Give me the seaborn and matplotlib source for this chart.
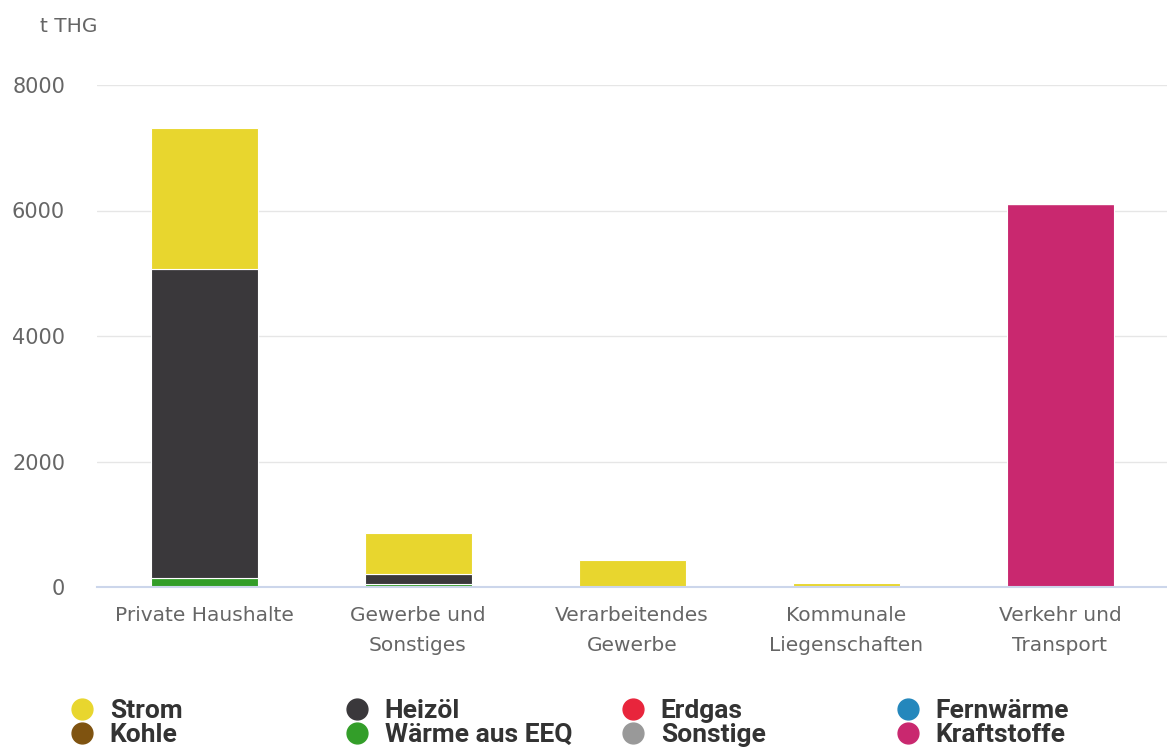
import pandas as pd
import matplotlib.pyplot as plt
import seaborn as sns
from matplotlib.lines import Line2D

# Data
sectors = ['Private Haushalte', 'Gewerbe und\nSonstiges', 'Verarbeitendes\nGewerbe',
           'Kommunale\nLiegenschaften', 'Verkehr und\nTransport']
carriers = ['Strom', 'Heizöl', 'Erdgas', 'Fernwärme',
            'Kohle', 'Wärme aus EEQ', 'Sonstige', 'Kraftstoffe']
colors = ['#e8d62e', '#3a383b', '#e8253c', '#2487bc',
          '#7f5310', '#339e29', '#999999', '#c9286f']

strom = [2240, 645, 430, 60, 0]
heizoel = [4920, 165, 0, 0, 0]
erdgas = [0, 0, 0, 0, 0]
fernwaerme = [0, 0, 0, 0, 0]
kohle = [0, 0, 0, 0, 0]
waerme_eeq = [150, 50, 0, 0, 0]
sonstige = [0, 0, 0, 0, 0]
kraftstoffe = [0, 0, 0, 0, 6110]

values = [strom, heizoel, erdgas, fernwaerme, kohle, waerme_eeq, sonstige, kraftstoffe]
rows = []
for c, vals in zip(carriers, values):
    for s, v in zip(sectors, vals):
        rows.append({'Sektor': s, 'Energieträger': c, 't': v})
df = pd.DataFrame(rows)
df = df[df['t'] > 0]

# Plot
sns.set_style('white')
plt.rcParams['font.family'] = ['DejaVu Sans']
fig = plt.figure(figsize=(11.67, 7.47), dpi=100)
ax = fig.add_axes([97 / 1167, 160 / 747, 1070 / 1167, 502 / 747])

palette = dict(zip(carriers, colors))
# first carrier ends up on top of the stack
sns.histplot(data=df, x='Sektor', weights='t', hue='Energieträger',
             hue_order=carriers, palette=palette, multiple='stack',
             discrete=True, shrink=0.5, alpha=1, edgecolor='white',
             linewidth=0.8, legend=False, ax=ax)

ax.set_xlim(-0.5, 4.5)
ax.set_ylim(0, 8000)
ax.set_xticks(range(len(sectors)))
ax.set_xticklabels(sectors, fontsize=14.5, color='#666666', linespacing=1.7)
ax.set_yticks([0, 2000, 4000, 6000, 8000])
ax.set_yticklabels(['0', '2000', '4000', '6000', '8000'], fontsize=15, color='#666666')
ax.tick_params(axis='x', length=0, pad=14)
ax.tick_params(axis='y', length=0, pad=23)
ax.yaxis.grid(True, color='#e6e6e6', linewidth=1)
ax.set_axisbelow(True)
for side in ['top', 'right', 'left']:
    ax.spines[side].set_visible(False)
ax.spines['bottom'].set_color('#ccd6eb')
ax.spines['bottom'].set_linewidth(1.5)
ax.set_xlabel('')
ax.set_ylabel('')
fig.text(40 / 1167, 1 - 27 / 747, 't THG', fontsize=14.5, color='#666666', va='center')

# legend: four columns at fixed positions, two rows each
col_x = [45, 320, 596, 871]
for k in range(4):
    idx = [k, k + 4]
    hs = [Line2D([0], [0], marker='o', linestyle='', markersize=15,
                 markerfacecolor=colors[i], markeredgecolor=colors[i]) for i in idx]
    leg = fig.legend(hs, [carriers[i] for i in idx], loc='lower left',
                     bbox_to_anchor=(col_x[k] / 1167, -0.014), frameon=False,
                     handletextpad=0.05, labelspacing=0.0, borderaxespad=0.0,
                     prop={'family': 'Roboto', 'weight': 'bold', 'size': 19})
    for t in leg.get_texts():
        t.set_color('#333333')

plt.savefig('out.png', dpi=100)
